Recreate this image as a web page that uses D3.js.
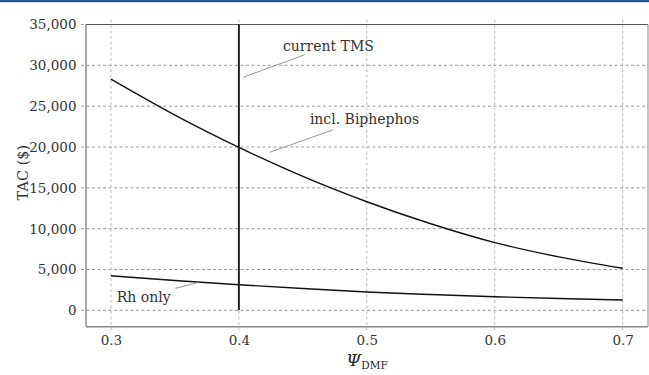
<!DOCTYPE html>
<html>
<head>
<meta charset="utf-8">
<script src="https://cdn.jsdelivr.net/npm/d3@7"></script>
<style>
  html, body { margin: 0; padding: 0; background: #fff; }
  svg { display: block; }
</style>
</head>
<body>
<svg id="chart" width="649" height="375"></svg>
<script>
// ---- data ----
const psi = [0.30, 0.35, 0.40, 0.45, 0.50, 0.55, 0.60, 0.65, 0.70];
const biphephos = [28300, 23900, 19950, 16400, 13300, 10600, 8300, 6550, 5150];
const rhOnly = [4240, 3660, 3140, 2670, 2250, 1940, 1670, 1450, 1260];
const tmsPsi = 0.4;
const tmsRange = [0, 35000];
const xTicks = [0.3, 0.4, 0.5, 0.6, 0.7];
const yTicks = [0, 5000, 10000, 15000, 20000, 25000, 30000, 35000];
const labels = [
  { text: "current TMS", tx: 0.4345, ty: 31700, lx1: 0.4515, ly1: 31300, lx2: 0.4035, ly2: 28550 },
  { text: "incl. Biphephos", tx: 0.4555, ty: 22800, lx1: 0.4735, ly1: 22100, lx2: 0.424, ly2: 19350 },
  { text: "Rh only", tx: 0.3045, ty: 1020, lx1: 0.3505, ly1: 2700, lx2: 0.3685, ly2: 3420 }
];

const FONT = '"DejaVu Serif", "Liberation Serif", serif';

// ---- layout ----
const svg = d3.select("#chart");
const W = 649, H = 375;
const m = { left: 86, right: 1, top: 24.5, bottom: 48.3 };
const x = d3.scaleLinear().domain([0.2805, 0.7198]).range([m.left, W - m.right]);
const y = d3.scaleLinear().domain([-2000, 35000]).range([H - m.bottom, m.top]);

// top blue bar
svg.append("rect").attr("x", 0).attr("y", 0).attr("width", W).attr("height", 2.2).attr("fill", "#1d5a97");

// grid lines (extend slightly beyond frame)
const g = svg.append("g");
g.selectAll(".hg").data(yTicks).enter().append("line")
  .attr("x1", m.left - 5).attr("x2", W - m.right)
  .attr("y1", d => y(d)).attr("y2", d => y(d))
  .attr("stroke", "#8f8f8f").attr("stroke-width", 0.9).attr("stroke-dasharray", "3,2.5");
g.selectAll(".vg").data(xTicks).enter().append("line")
  .attr("x1", d => x(d)).attr("x2", d => x(d))
  .attr("y1", m.top - 5).attr("y2", H - m.bottom + 5)
  .attr("stroke", "#b3b3b3").attr("stroke-width", 0.9).attr("stroke-dasharray", "3,2.5");

// frame
const x0 = m.left, x1 = W - m.right, y0 = m.top, y1 = H - m.bottom;
svg.append("line").attr("x1", x0).attr("x2", x1).attr("y1", y0).attr("y2", y0).attr("stroke", "#555").attr("stroke-width", 1);
svg.append("line").attr("x1", x0).attr("x2", x0).attr("y1", y0).attr("y2", y1).attr("stroke", "#555").attr("stroke-width", 1);
svg.append("line").attr("x1", x1).attr("x2", x1).attr("y1", y0).attr("y2", y1).attr("stroke", "#888").attr("stroke-width", 1);
svg.append("line").attr("x1", x0).attr("x2", x1).attr("y1", y1).attr("y2", y1).attr("stroke", "#888").attr("stroke-width", 1.4);

// axes labels via d3 axes (ticks hidden, only labels)
const fmt = d3.format(",");
const yAxis = svg.append("g").attr("transform", `translate(${m.left},0)`)
  .call(d3.axisLeft(y).tickValues(yTicks).tickSize(0).tickPadding(9.5).tickFormat(fmt));
const xAxis = svg.append("g").attr("transform", `translate(0,${H - m.bottom})`)
  .call(d3.axisBottom(x).tickValues(xTicks).tickSize(0).tickPadding(9).tickFormat(d3.format(".1f")));
[yAxis, xAxis].forEach(a => {
  a.attr("font-family", FONT).attr("font-size", 13.5);
  a.select(".domain").remove();
  a.selectAll("text").attr("fill", "#333");
});

// curves
const line = d3.line().x(d => x(d[0])).y(d => y(d[1])).curve(d3.curveMonotoneX);
svg.append("path").datum(psi.map((p, i) => [p, biphephos[i]]))
  .attr("d", line).attr("fill", "none").attr("stroke", "#111").attr("stroke-width", 1.4);
svg.append("path").datum(psi.map((p, i) => [p, rhOnly[i]]))
  .attr("d", line).attr("fill", "none").attr("stroke", "#111").attr("stroke-width", 1.4);

// current TMS vertical line
svg.append("line").attr("x1", x(tmsPsi)).attr("x2", x(tmsPsi))
  .attr("y1", y(tmsRange[1])).attr("y2", y(tmsRange[0]))
  .attr("stroke", "#1a1a1a").attr("stroke-width", 1.9);

// annotations
labels.forEach(l => {
  svg.append("line").attr("x1", x(l.lx1)).attr("y1", y(l.ly1)).attr("x2", x(l.lx2)).attr("y2", y(l.ly2))
    .attr("stroke", "#8a8a8a").attr("stroke-width", 0.9);
  svg.append("text").attr("x", x(l.tx)).attr("y", y(l.ty)).text(l.text)
    .attr("font-family", FONT).attr("font-size", 14).attr("fill", "#333");
});

// axis titles
svg.append("text")
  .attr("transform", `translate(27.5,${(y0 + y1) / 2 - 3}) rotate(-90)`)
  .attr("text-anchor", "middle").attr("font-family", FONT).attr("font-size", 14.5).attr("fill", "#333")
  .text("TAC ($)");

const xt = svg.append("text").attr("x", (x0 + x1) / 2).attr("y", 366)
  .attr("text-anchor", "middle").attr("fill", "#222").attr("font-family", FONT);
xt.append("tspan").attr("font-style", "italic").attr("font-size", 17).text("Ψ");
xt.append("tspan").attr("font-size", 10.5).attr("dy", 3).text("DMF");
</script>
</body>
</html>
